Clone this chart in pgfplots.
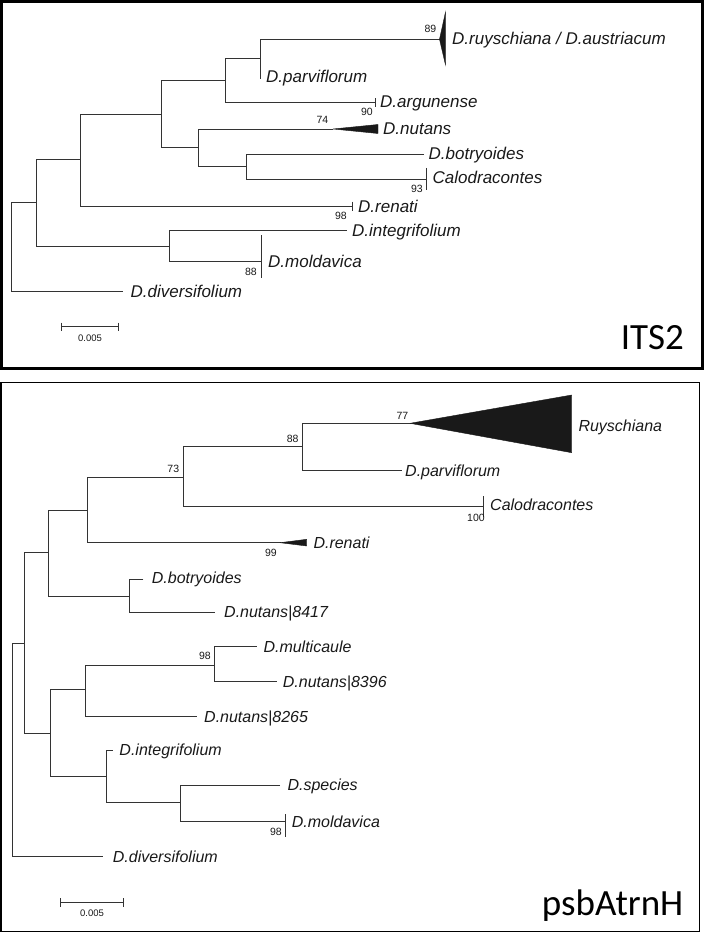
\documentclass[border=0pt]{standalone}
\usepackage{pgfplots}
\pgfplotsset{compat=1.18}
\usepackage{fontspec}
\setmainfont{Liberation Sans}
\newfontfamily\calib{Carlito}

\tikzset{
  tree/.style={black!80, line width=0.9bp},
  clade/.style={fill=black!90, draw=black!90, line width=0.4bp},
  taxA/.style={anchor=base west, inner sep=0pt, text=black!90, font=\fontsize{17bp}{20bp}\selectfont\itshape},
  taxB/.style={anchor=base west, inner sep=0pt, text=black!90, font=\fontsize{16bp}{19bp}\selectfont\itshape},
  boot/.style={inner sep=0pt, anchor=center, text=black!90, font=\fontsize{10.5bp}{12bp}\selectfont},
  bar/.style={inner sep=0pt, anchor=center, text=black!90, font=\fontsize{9.5bp}{11bp}\selectfont},
  panel/.style={inner sep=0pt, anchor=base east, font=\calib\fontsize{37bp}{40bp}\selectfont},
}

\begin{document}
\begin{tikzpicture}
\begin{axis}[
    width=710bp, height=948bp, scale only axis,
    xmin=0, xmax=710, ymin=0, ymax=948, y dir=reverse,
    hide axis, clip=false
]
\addplot[draw=none] coordinates {(0,0) (710,948)};

% ---------------- ITS2 ----------------
\addplot[black, line width=2.5bp, line cap=rect] coordinates {(1.5,1.5) (702.5,1.5) (702.5,368.5) (1.5,368.5) (1.5,1.5)};

% brackets: upper child -> node -> lower child
\addplot[tree] coordinates {(36.7,202) (11.7,202) (11.7,291) (122.7,291)};
\addplot[tree] coordinates {(80.3,159) (36.7,159) (36.7,246) (169,246)};
\addplot[tree] coordinates {(161,114) (80.3,114) (80.3,206) (352.3,206)};
\addplot[tree] coordinates {(225.7,80.7) (161,80.7) (161,147.7) (198.3,147.7)};
\addplot[tree] coordinates {(260,58.3) (225.7,58.3) (225.7,102.7) (375,102.7)};
\addplot[tree] coordinates {(440,39.3) (260,39.3) (260,78) (261,78)};
\addplot[tree] coordinates {(333,129) (198.3,129) (198.3,166) (246,166)};
\addplot[tree] coordinates {(424,154.3) (246,154.3) (246,179) (426.7,179)};
\addplot[tree] coordinates {(346.7,230) (169,230) (169,261) (261.7,261)};
% collapsed clades
\addplot[tree] coordinates {(375,98.5) (375,107)};
\addplot[tree] coordinates {(352.3,201.5) (352.3,210.5)};
\addplot[tree] coordinates {(426.7,168) (426.7,190)};
\addplot[tree] coordinates {(261.7,235) (261.7,277.7)};
\addplot[clade] coordinates {(439.5,39.3) (445.5,12) (445.5,65) (439.5,39.3)};
\addplot[clade] coordinates {(333,129) (378,124.5) (378,133.5) (333,129)};
% scale bar
\addplot[tree] coordinates {(61.7,326.7) (118.3,326.7)};
\addplot[tree] coordinates {(61.7,322.5) (61.7,331)};
\addplot[tree] coordinates {(118.3,322.5) (118.3,331)};

\node[taxA] at (axis cs:452,45) {D.ruyschiana / D.austriacum};
\node[taxA] at (axis cs:266,83) {D.parviflorum};
\node[taxA] at (axis cs:380,107.5) {D.argunense};
\node[taxA] at (axis cs:383,134.5) {D.nutans};
\node[taxA] at (axis cs:428.5,160) {D.botryoides};
\node[taxA] at (axis cs:432.5,184) {Calodracontes};
\node[taxA] at (axis cs:358,212) {D.renati};
\node[taxA] at (axis cs:352,236) {D.integrifolium};
\node[taxA] at (axis cs:268,267) {D.moldavica};
\node[taxA] at (axis cs:130.5,297) {D.diversifolium};

\node[boot] at (axis cs:430.5,29) {89};
\node[boot] at (axis cs:367,112) {90};
\node[boot] at (axis cs:322.5,119.5) {74};
\node[boot] at (axis cs:417,189) {93};
\node[boot] at (axis cs:341,216) {98};
\node[boot] at (axis cs:251,271.7) {88};
\node[bar] at (axis cs:90,338.5) {0.005};
\node[panel] at (axis cs:684,349) {ITS2};

% ---------------- psbAtrnH ----------------
\addplot[black, line width=1.8bp, line cap=rect] coordinates {(1,382.5) (699.5,382.5) (699.5,931.5) (1,931.5) (1,382.5)};

\addplot[tree] coordinates {(24,643.3) (12.3,643.3) (12.3,856.7) (103.3,856.7)};
\addplot[tree] coordinates {(48.3,552.7) (24,552.7) (24,733.3) (50.7,733.3)};
\addplot[tree] coordinates {(87.3,510) (48.3,510) (48.3,596) (129,596)};
\addplot[tree] coordinates {(183.3,477.7) (87.3,477.7) (87.3,542.7) (281,542.7)};
\addplot[tree] coordinates {(302.7,446.7) (183.3,446.7) (183.3,506) (483.3,506)};
\addplot[tree] coordinates {(411,423.3) (302.7,423.3) (302.7,470) (402,470)};
\addplot[tree] coordinates {(143.3,579) (129,579) (129,612.7) (215,612.7)};
\addplot[tree] coordinates {(85,689.3) (50.7,689.3) (50.7,776.7) (106.7,776.7)};
\addplot[tree] coordinates {(214,665) (85,665) (85,716.7) (196.7,716.7)};
\addplot[tree] coordinates {(256.7,646.7) (214,646.7) (214,681.7) (276.7,681.7)};
\addplot[tree] coordinates {(112.7,750) (106.7,750) (106.7,802.7) (180,802.7)};
\addplot[tree] coordinates {(280,785) (180,785) (180,821.7) (285,821.7)};
\addplot[tree] coordinates {(483.3,496) (483.3,516.7)};
\addplot[tree] coordinates {(285,814) (285,836.7)};
\addplot[clade] coordinates {(410,423.3) (571.7,395) (571.7,452.7) (410,423.3)};
\addplot[clade] coordinates {(280,542.7) (306.7,539.3) (306.7,546) (280,542.7)};
\addplot[tree] coordinates {(60,902.3) (123.3,902.3)};
\addplot[tree] coordinates {(60,898) (60,906.5)};
\addplot[tree] coordinates {(123.3,898) (123.3,906.5)};

\node[taxB] at (axis cs:578.3,431) {Ruyschiana};
\node[taxB] at (axis cs:405,476) {D.parviflorum};
\node[taxB] at (axis cs:490,510.5) {Calodracontes};
\node[taxB] at (axis cs:313.3,548) {D.renati};
\node[taxB] at (axis cs:151.7,583) {D.botryoides};
\node[taxB] at (axis cs:224,617) {D.nutans|8417};
\node[taxB] at (axis cs:263.3,652.5) {D.multicaule};
\node[taxB] at (axis cs:282.7,687) {D.nutans|8396};
\node[taxB] at (axis cs:204,722) {D.nutans|8265};
\node[taxB] at (axis cs:119.3,755) {D.integrifolium};
\node[taxB] at (axis cs:287.3,790) {D.species};
\node[taxB] at (axis cs:291.7,827.5) {D.moldavica};
\node[taxB] at (axis cs:112.7,862) {D.diversifolium};

\node[boot] at (axis cs:402.5,416) {77};
\node[boot] at (axis cs:292.7,439) {88};
\node[boot] at (axis cs:173.3,468.7) {73};
\node[boot] at (axis cs:476,517.5) {100};
\node[boot] at (axis cs:271,553) {99};
\node[boot] at (axis cs:205,656.3) {98};
\node[boot] at (axis cs:276,832) {98};
\node[bar] at (axis cs:92,913.5) {0.005};
\node[panel] at (axis cs:683.5,915.5) {psbAtrnH};
\end{axis}
\end{tikzpicture}
\end{document}
